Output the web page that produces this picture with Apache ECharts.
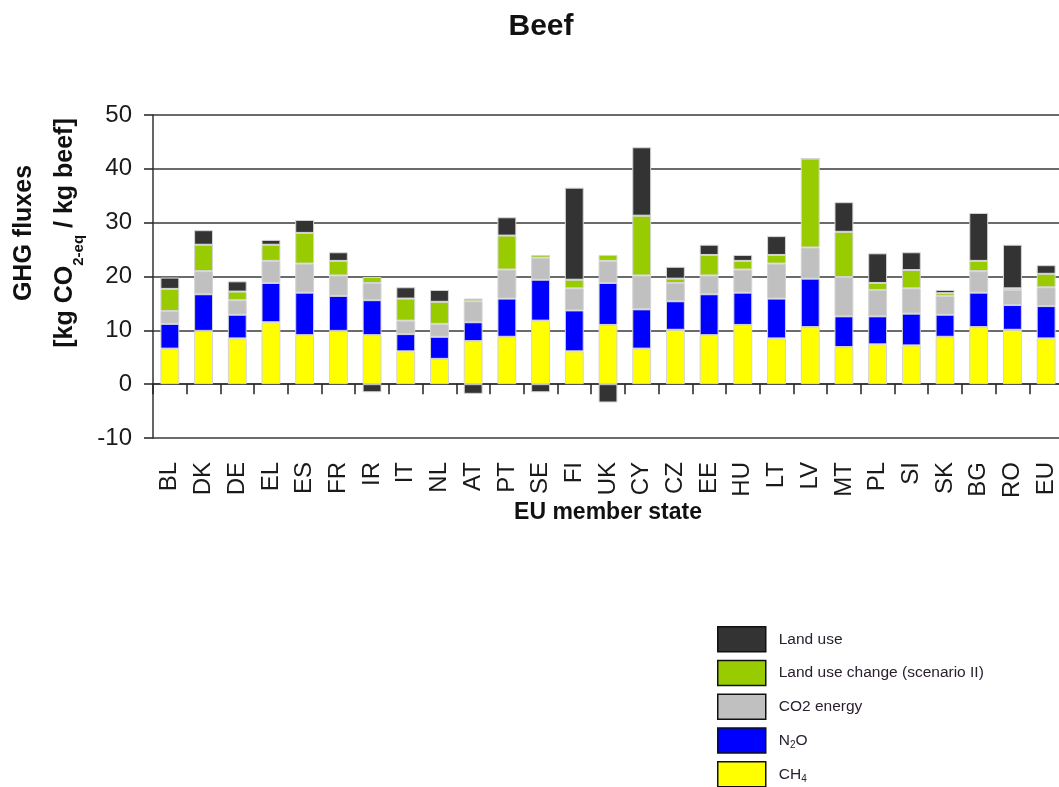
<!DOCTYPE html>
<html>
<head>
<meta charset="utf-8">
<script src="https://cdn.jsdelivr.net/npm/echarts@6/dist/echarts.min.js"></script>
<style>
html,body{margin:0;padding:0;background:#fff;}
#chart{width:1059px;height:787px;}
</style>
</head>
<body>
<div id="chart"></div>
<script>
var categories = ['BL','DK','DE','EL','ES','FR','IR','IT','NL','AT','PT','SE','FI','UK','CY','CZ','EE','HU','LT','LV','MT','PL','SI','SK','BG','RO','EU'];
var ch4 = [6.6,9.9,8.5,11.5,9.1,9.9,9.1,6.1,4.7,8.0,8.8,11.8,6.1,11.0,6.6,10.1,9.1,11.0,8.5,10.6,6.9,7.4,7.2,8.8,10.6,10.1,8.5];
var n2o = [4.6,6.8,4.4,7.3,7.9,6.5,6.5,3.2,4.1,3.5,7.1,7.6,7.6,7.8,7.3,5.3,7.6,6.0,7.4,9.0,5.7,5.2,5.9,4.1,6.4,4.6,6.0];
var co2Energy = [2.4,4.3,2.7,4.1,5.4,3.8,3.2,2.5,2.4,3.9,5.4,4.1,4.1,4.1,6.3,3.4,3.5,4.3,6.5,5.8,7.3,4.9,4.7,3.5,4.0,2.8,3.5];
var landUseChange = [4.1,4.9,1.6,3.0,5.7,2.7,1.1,4.1,4.1,0.5,6.3,0.5,1.6,1.1,11.1,0.8,3.8,1.6,1.6,16.5,8.4,1.3,3.4,0.5,1.9,0.3,2.5];
var landUse = [2.1,2.7,1.9,0.9,2.4,1.6,-1.5,2.1,2.2,-1.8,3.4,-1.5,17.1,-3.4,12.7,2.2,1.9,1.1,3.5,0,5.5,5.5,3.3,0.6,8.9,8.1,1.6];
var yTicks = {min:-10, max:50, interval:10};

var FONT = 'Liberation Sans, Arial, sans-serif';
var chart = echarts.init(document.getElementById('chart'), null, {renderer:'canvas'});

function bar(name, data, color){
  return {
    name: name, type: 'bar', stack: 'total', data: data,
    barWidth: '56%',
    itemStyle: {color: color, borderColor: '#d4d4d4', borderWidth: 1},
    emphasis: {disabled: true}
  };
}

var legendNames = {
  'Land use': '{t|Land use}',
  'Land use change (scenario II)': '{t|Land use change (scenario II)}',
  'CO2 energy': '{t|CO2 energy}',
  'N2O': '{t|N}{s|2}{t|O}',
  'CH4': '{t|CH}{s|4}'
};

chart.setOption({
  animation: false,
  backgroundColor: '#fff',
  title: {
    text: 'Beef', left: 536, top: 7, textAlign: 'center',
    textStyle: {fontFamily: FONT, fontSize: 30, fontWeight: 'bold', color: '#111'}
  },
  grid: {left: 153, top: 115, right: -4, bottom: 349, containLabel: false, outerBoundsMode: 'none'},
  legend: {
    orient: 'vertical', left: 717, top: 626, height: 200, padding: 0,
    itemWidth: 48, itemHeight: 25, itemGap: 7.25,
    icon: 'rect',
    selectedMode: false,
    data: ['Land use','Land use change (scenario II)','CO2 energy','N2O','CH4'],
    itemStyle: {borderColor: '#111', borderWidth: 1.5},
    formatter: function(n){ return legendNames[n] || n; },
    textStyle: {
      fontFamily: FONT, fontSize: 15.5, color: '#2a2030', padding: [0,0,0,8],
      rich: {
        t: {fontFamily: FONT, fontSize: 15.5, color: '#2a2030', lineHeight: 20},
        s: {fontFamily: FONT, fontSize: 10, color: '#2a2030', lineHeight: 12, verticalAlign: 'bottom'}
      }
    }
  },
  xAxis: {
    type: 'category', data: categories,
    axisLine: {show: true, onZero: true, lineStyle: {color: '#333', width: 1.5}},
    axisTick: {show: true, length: 10, interval: 0, alignWithLabel: false, lineStyle: {color: '#222', width: 1.5}},
    axisLabel: {interval: 0, rotate: 90, margin: 24, fontFamily: FONT, fontSize: 24, color: '#1a1a1a'},
    splitLine: {show: false}
  },
  yAxis: {
    type: 'value', min: yTicks.min, max: yTicks.max, interval: yTicks.interval,
    axisLine: {show: true, lineStyle: {color: '#333', width: 1.5}},
    axisTick: {show: true, length: 9, inside: false, lineStyle: {color: '#222', width: 1.5}},
    axisLabel: {margin: 21, fontFamily: FONT, fontSize: 24, color: '#1a1a1a'},
    splitLine: {show: true, lineStyle: {color: '#3a3a3a', width: 1.5}}
  },
  graphic: [
    {
      type: 'text', x: 45, y: 233, rotation: Math.PI/2,
      style: {
        text: '{a|GHG fluxes}\n{a|[kg CO}{s|2-eq}{a| / kg beef]}',
        align: 'center', verticalAlign: 'middle',
        rich: {
          a: {fontFamily: FONT, fontSize: 25, fontWeight: 'bold', fill: '#111', lineHeight: 41},
          s: {fontFamily: FONT, fontSize: 15, fontWeight: 'bold', fill: '#111', lineHeight: 29, verticalAlign: 'bottom'}
        }
      }
    },
    {
      type: 'text', x: 608, y: 513,
      style: {
        text: 'EU member state', align: 'center', verticalAlign: 'middle',
        fontFamily: FONT, fontSize: 23, fontWeight: 'bold', fill: '#111'
      }
    }
  ],
  series: [
    bar('CH4', ch4, '#FFFF00'),
    bar('N2O', n2o, '#0000FF'),
    bar('CO2 energy', co2Energy, '#C0C0C0'),
    bar('Land use change (scenario II)', landUseChange, '#99CC00'),
    bar('Land use', landUse, '#333333')
  ]
});
</script>
</body>
</html>
